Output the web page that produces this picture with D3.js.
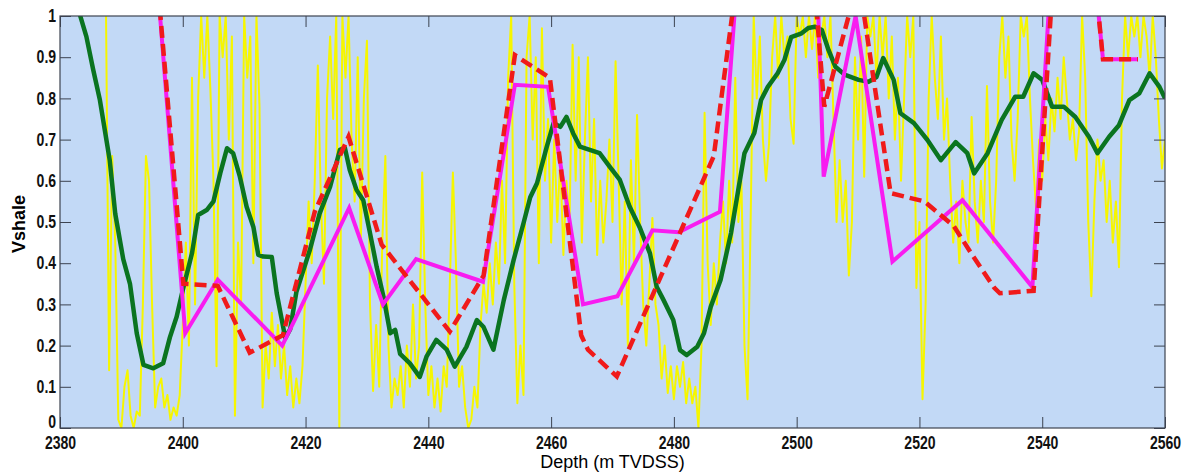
<!DOCTYPE html>
<html lang="en">
<head>
    <meta charset="UTF-8">
    <title>Vshale vs depth</title>
</head>
<style>
    body {
        margin: 0;
        background: #fff;
    }

    .axis text {
        font-family: "Liberation Sans", Arial, sans-serif;
        font-weight: bold;
        font-size: 18px;
        fill: #111;
    }

    .axis path, .axis line {
        stroke: #3c4350;
        stroke-width: 1px;
    }

    .label {
        font-family: "Liberation Sans", Arial, sans-serif;
        font-size: 18px;
        fill: #000;
    }
</style>
<body>
<script src="https://cdnjs.cloudflare.com/ajax/libs/d3/7.8.5/d3.min.js"></script>
<script>
    const width = 1190, height = 472;
    const margin = {left: 60, right: 25, top: 16, bottom: 44};

    const xTicks = [2380, 2400, 2420, 2440, 2460, 2480, 2500, 2520, 2540, 2560];
    const yTicks = [0, 0.1, 0.2, 0.3, 0.4, 0.5, 0.6, 0.7, 0.8, 0.9, 1];

    // raw gamma-ray derived vshale, sampled every 0.5 m from 2387.5
    const yellowStart = 2387.5, yellowStep = 0.5;
    const yellowVsh = [
        1.0, 0.14, 0.66, 0.45, 0.02, 0.0, 0.1, 0.14, 0.03, 0.0,
        0.04, 0.03, 0.3, 0.66, 0.6, 0.3, 0.05, 0.1, 0.12, 0.05,
        0.08, 0.02, 0.05, 0.03, 0.08, 0.25, 0.45, 0.2, 0.85, 0.3,
        0.8, 1.0, 0.85, 1.0, 0.82, 0.6, 0.15, 1.0, 0.9, 1.0,
        0.7, 0.95, 0.03, 0.45, 0.3, 1.0, 0.85, 0.95, 0.4, 1.0,
        0.78, 0.05, 0.2, 0.12, 0.28, 0.15, 0.25, 0.12, 0.2, 0.08,
        0.15, 0.05, 0.12, 0.06, 0.15, 0.35, 0.55, 0.4, 0.6, 0.88,
        0.55, 0.35, 0.8, 0.95, 0.75, 1.0, 0.0, 1.0, 0.85, 1.0,
        0.7, 0.55, 0.9, 0.45, 0.8, 0.94, 0.3, 0.09, 0.25, 0.1,
        0.45, 0.66, 0.2, 0.05, 0.12, 0.08, 0.15, 0.05, 0.2, 0.1,
        0.3, 0.12, 0.2, 0.62, 0.3, 0.08, 0.15, 0.05, 0.12, 0.04,
        0.15, 0.1, 0.35, 0.62, 0.4, 0.1, 0.15, 0.05, 0.0, 0.02,
        0.1, 0.05, 0.25, 0.35, 0.28, 0.4, 0.3, 0.45, 0.35, 0.6,
        0.4, 0.85, 1.0, 0.35, 0.06, 0.2, 0.08, 0.9, 1.0, 0.7,
        0.9, 0.4, 0.97, 0.6, 0.75, 0.45, 0.7, 0.5, 0.65, 0.42,
        0.6, 0.5, 0.93, 0.6, 0.9, 0.45, 0.7, 0.9, 0.55, 0.75,
        0.42, 0.6, 0.45, 0.55, 0.7, 0.5, 0.89, 0.6, 0.3, 0.55,
        0.2, 0.65, 0.4, 0.76, 0.5, 0.3, 0.2, 0.35, 0.51, 0.3,
        0.25, 0.12, 0.2, 0.085, 0.15, 0.07, 0.15, 0.1, 0.16, 0.06,
        0.12, 0.06, 0.1, 0.0, 0.2, 0.765, 0.4, 0.25, 0.4, 0.3,
        0.45, 0.55, 0.4, 0.6, 0.45, 0.85, 0.5, 0.6, 0.2, 0.07,
        0.5, 1.0, 0.8, 0.95, 0.7, 0.6, 0.69, 0.9, 1.0, 0.85,
        1.0, 0.9, 0.95, 0.75, 0.69, 1.0, 0.95, 1.0, 0.9, 1.0,
        0.92, 1.0, 0.85, 0.95, 1.0, 0.9, 1.0, 0.75, 0.5, 0.65,
        0.5, 0.6, 0.37, 0.5, 0.9, 0.7, 0.95, 0.61, 1.0, 0.95,
        1.0, 0.85, 1.0, 0.9, 1.0, 0.8, 0.95, 0.7, 0.85, 0.6,
        0.8, 1.0, 0.9, 1.0, 0.34, 0.5, 0.07, 0.3, 0.8, 1.0,
        0.85, 0.75, 0.95, 0.7, 0.8, 0.6, 0.45, 0.55, 0.4, 0.6,
        0.5, 0.45, 0.755, 0.55, 0.45, 0.6, 0.5, 0.83, 0.55, 0.45,
        0.6, 0.9, 1.0, 0.85, 0.95, 0.7, 0.6, 0.75, 1.0, 0.95,
        1.0, 0.8, 0.65, 0.53, 0.7, 0.6, 0.75, 0.65, 0.8, 0.72,
        0.85, 0.75, 0.9, 0.8, 0.7, 0.75, 0.65, 0.72, 1.0, 0.85,
        0.5, 0.32, 0.55, 0.7, 0.6, 0.65, 0.5, 0.6, 0.45, 0.55,
        0.39, 0.8, 1.0, 0.9, 1.0, 0.95, 1.0, 0.9, 1.0, 0.95,
        0.85, 1.0, 0.9, 0.75, 0.63, 0.7
    ];

    // smoothed vshale [depth, value]
    const greenVsh = [
        [2381.0, 1.12], [2383.3, 1.0], [2384.3, 0.95], [2385.4, 0.87], [2386.5, 0.796], [2388.1, 0.65],
        [2389.0, 0.52], [2390.3, 0.41], [2391.4, 0.35], [2392.5, 0.23], [2393.6, 0.153], [2395.2, 0.145],
        [2396.8, 0.157], [2397.9, 0.22], [2399.0, 0.27], [2400.0, 0.335], [2401.5, 0.424], [2402.5, 0.517],
        [2403.9, 0.529], [2405.0, 0.55], [2406.1, 0.618], [2407.2, 0.679], [2408.2, 0.667], [2409.3, 0.61],
        [2410.4, 0.537], [2411.5, 0.488], [2412.3, 0.42], [2413.1, 0.416], [2414.5, 0.415], [2415.3, 0.327],
        [2416.7, 0.218], [2417.5, 0.24], [2418.5, 0.33], [2420.7, 0.432], [2422.3, 0.521], [2424.0, 0.586],
        [2425.6, 0.675], [2426.4, 0.68], [2427.2, 0.626], [2428.3, 0.578], [2429.4, 0.553], [2430.5, 0.473],
        [2431.6, 0.39], [2432.7, 0.318], [2433.8, 0.23], [2434.6, 0.238], [2435.4, 0.18], [2437.0, 0.157],
        [2438.6, 0.124], [2439.7, 0.173], [2441.3, 0.214], [2443.0, 0.19], [2444.3, 0.149], [2446.2, 0.197],
        [2447.9, 0.262], [2449.0, 0.245], [2450.6, 0.19], [2452.3, 0.311], [2453.9, 0.408], [2455.5, 0.497],
        [2456.6, 0.56], [2457.7, 0.594], [2459.3, 0.683], [2460.4, 0.74], [2461.5, 0.731], [2462.5, 0.755],
        [2463.6, 0.715], [2464.7, 0.683], [2466.3, 0.675], [2467.9, 0.667], [2469.5, 0.635], [2471.2, 0.602],
        [2472.8, 0.537], [2474.4, 0.488], [2476.1, 0.424], [2477.2, 0.343], [2478.3, 0.311], [2479.9, 0.262],
        [2481.0, 0.189], [2482.1, 0.177], [2483.8, 0.197], [2484.9, 0.23], [2486.0, 0.294], [2487.6, 0.359],
        [2489.3, 0.473], [2490.4, 0.57], [2491.5, 0.667], [2493.1, 0.716], [2494.2, 0.796], [2495.3, 0.828],
        [2496.9, 0.861], [2498.0, 0.893], [2499.1, 0.949], [2500.8, 0.958], [2501.9, 0.971], [2503.0, 0.974],
        [2504.1, 0.966], [2505.2, 0.917], [2506.3, 0.877], [2507.9, 0.857], [2510.1, 0.845], [2511.7, 0.84],
        [2513.0, 0.852], [2514.1, 0.898], [2515.8, 0.845], [2516.9, 0.764], [2519.1, 0.74], [2521.3, 0.699],
        [2523.5, 0.65], [2525.9, 0.694], [2527.8, 0.667], [2528.9, 0.618], [2531.1, 0.667], [2533.4, 0.748],
        [2535.6, 0.804], [2536.9, 0.804], [2538.6, 0.861], [2540.0, 0.845], [2541.6, 0.78], [2543.5, 0.78],
        [2545.4, 0.755], [2547.6, 0.707], [2549.0, 0.667], [2550.9, 0.707], [2552.5, 0.735], [2554.2, 0.796],
        [2555.8, 0.812], [2557.5, 0.861], [2559.1, 0.828], [2560.0, 0.80]
    ];

    // zone averages
    const magentaVsh = [
        [2395.5, 1.15], [2400.4, 0.23], [2405.7, 0.36], [2416.2, 0.20], [2427.1, 0.534], [2432.6, 0.30],
        [2438.0, 0.41], [2448.9, 0.355], [2454.1, 0.833], [2459.5, 0.828], [2465.2, 0.30], [2470.8, 0.32],
        [2476.5, 0.48], [2480.8, 0.475], [2487.5, 0.525], [2490.6, 1.15], [2503.2, 1.15], [2504.4, 0.61],
        [2509.6, 1.0], [2515.6, 0.404], [2527.0, 0.553], [2538.4, 0.342], [2541.6, 1.15], [2548.2, 1.15],
        [2549.9, 0.895], [2555.6, 0.895]
    ];

    const redVsh = [
        [2395.5, 1.15], [2400.1, 0.35], [2405.7, 0.345], [2410.9, 0.183], [2416.3, 0.225], [2421.5, 0.525],
        [2427.0, 0.707], [2432.4, 0.445], [2443.5, 0.234], [2449.0, 0.37], [2454.1, 0.905], [2459.8, 0.85],
        [2464.9, 0.225], [2466.0, 0.19], [2470.7, 0.125], [2486.5, 0.66], [2490.8, 1.15], [2502.5, 1.15],
        [2504.5, 0.78], [2510.1, 1.09], [2515.3, 0.57], [2520.8, 0.55], [2525.6, 0.49], [2528.6, 0.42],
        [2532.2, 0.34], [2533.1, 0.327], [2538.6, 0.333], [2542.0, 1.15], [2548.2, 1.15], [2549.9, 0.895],
        [2555.6, 0.895]
    ];

    const svg = d3.select("body")
        .append("svg")
        .attr("width", width)
        .attr("height", height);

    const x = d3.scaleLinear().domain([2380, 2560]).range([margin.left, width - margin.right]);
    const y = d3.scaleLinear().domain([0, 1]).range([height - margin.bottom, margin.top]);

    svg.append("rect")
        .attr("x", x(2380))
        .attr("y", y(1))
        .attr("width", x(2560) - x(2380))
        .attr("height", y(0) - y(1))
        .attr("fill", "#c2d9f6");

    svg.append("defs").append("clipPath")
        .attr("id", "plot-clip")
        .append("rect")
        .attr("x", x(2380))
        .attr("y", y(1))
        .attr("width", x(2560) - x(2380))
        .attr("height", y(0) - y(1));

    const plot = svg.append("g").attr("clip-path", "url(#plot-clip)");

    const line = d3.line()
        .x(function (d) {
            return x(d[0]);
        })
        .y(function (d) {
            return y(d[1]);
        });

    const yellowPts = yellowVsh.map(function (v, i) {
        return [yellowStart + i * yellowStep, v];
    });

    plot.append("path")
        .datum(yellowPts)
        .attr("d", line)
        .attr("fill", "none")
        .attr("stroke", "#f6f600")
        .attr("stroke-width", 2)
        .attr("stroke-linejoin", "round");

    plot.append("path")
        .datum(greenVsh)
        .attr("d", line)
        .attr("fill", "none")
        .attr("stroke", "#0a7420")
        .attr("stroke-width", 4.5)
        .attr("stroke-linejoin", "round");

    plot.append("path")
        .datum(magentaVsh)
        .attr("d", line)
        .attr("fill", "none")
        .attr("stroke", "#f81cf0")
        .attr("stroke-width", 4);

    plot.append("path")
        .datum(redVsh)
        .attr("d", line)
        .attr("fill", "none")
        .attr("stroke", "#f01a1a")
        .attr("stroke-width", 4.5)
        .attr("stroke-dasharray", "12,6");

    // squeeze tick labels horizontally, the original uses a narrow bold face
    function narrow(g) {
        g.select(".domain").remove();
        g.selectAll("text").attr("transform", "scale(0.78,1)");
    }

    // axes with inward ticks on all four sides
    const tick = 11;
    svg.append("g")
        .attr("class", "axis")
        .attr("transform", "translate(0," + y(0) + ")")
        .call(d3.axisBottom(x).tickValues(xTicks).tickSize(-tick).tickPadding(8).tickFormat(d3.format("d")))
        .call(narrow);

    svg.append("g")
        .attr("class", "axis")
        .attr("transform", "translate(0," + y(1) + ")")
        .call(d3.axisTop(x).tickValues(xTicks).tickSize(-tick).tickFormat(""))
        .call(narrow);

    svg.append("g")
        .attr("class", "axis")
        .attr("transform", "translate(" + x(2380) + ",0)")
        .call(d3.axisLeft(y).tickValues(yTicks).tickSize(-tick).tickPadding(5).tickFormat(d3.format("~g")))
        .call(narrow)
        .call(function (g) {
            // lift the zero label so it clears the first depth label
            g.selectAll(".tick text").filter(function (d) {
                return d === 0;
            }).attr("dy", "-0.05em");
        });

    svg.append("g")
        .attr("class", "axis")
        .attr("transform", "translate(" + x(2560) + ",0)")
        .call(d3.axisRight(y).tickValues(yTicks).tickSize(-tick).tickFormat(""))
        .call(narrow);

    svg.append("rect")
        .attr("x", x(2380))
        .attr("y", y(1))
        .attr("width", x(2560) - x(2380))
        .attr("height", y(0) - y(1))
        .attr("fill", "none")
        .attr("stroke", "#3c4350")
        .attr("stroke-width", 1.2);

    svg.append("text")
        .attr("class", "label")
        .attr("x", (x(2380) + x(2560)) / 2)
        .attr("y", 468)
        .attr("text-anchor", "middle")
        .text("Depth (m TVDSS)");

    svg.append("text")
        .attr("class", "label")
        .attr("transform", "translate(25," + (y(0.5) + 2) + ") rotate(-90)")
        .attr("text-anchor", "middle")
        .style("font-weight", "bold")
        .text("Vshale");
</script>
</body>
</html>
